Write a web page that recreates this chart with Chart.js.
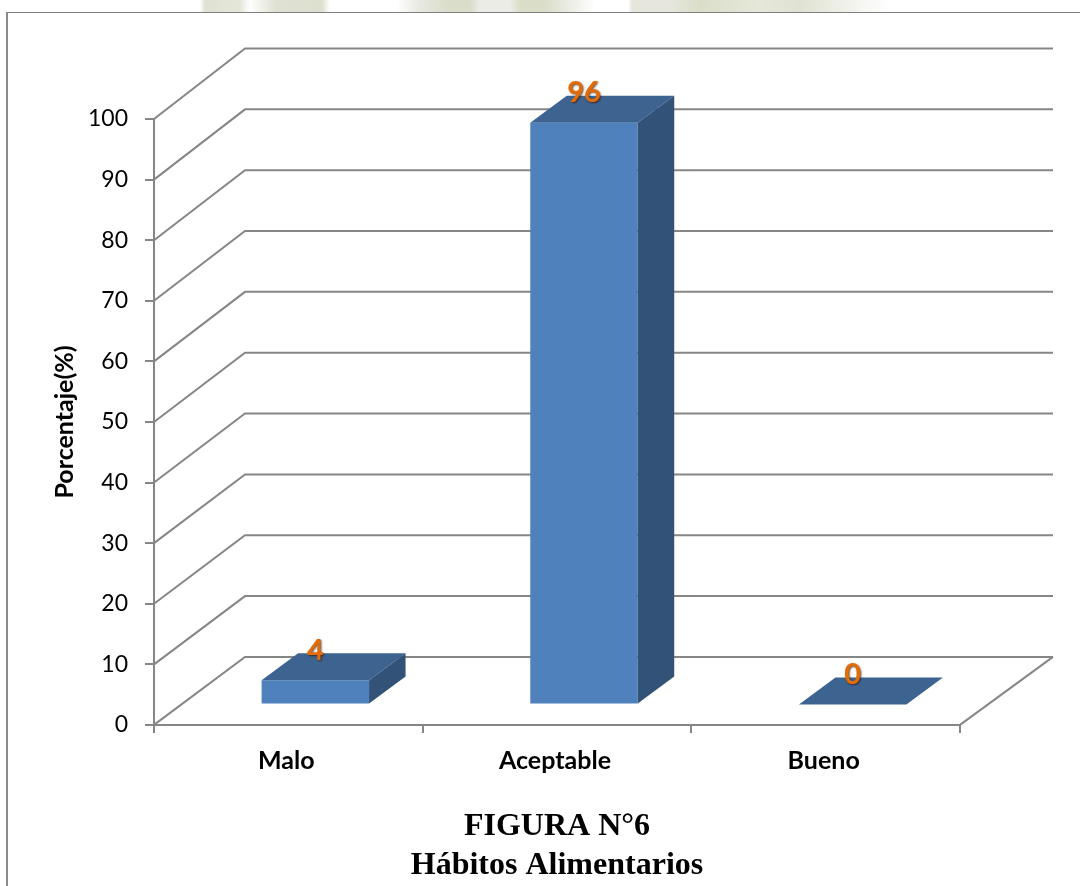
<!DOCTYPE html>
<html lang="es">
<head>
<meta charset="utf-8">
<title>Hábitos Alimentarios</title>
<script src="https://cdn.jsdelivr.net/npm/chart.js@4"></script>
<style>
    html, body { margin: 0; padding: 0; background: #fff; }
    body { position: relative; width: 1080px; height: 886px; overflow: hidden; }
    #sello {
        position: absolute; left: 0; top: 0; width: 1080px; height: 12px;
        background: linear-gradient(90deg,
            #fff 200px, #dfe2d3 205px, #e4e6d9 240px, #fff 250px, #dfe2d3 275px, #dde0cf 322px, #fff 330px,
            #fff 396px, #e8e8e0 420px, #d9ddc9 450px, #d9ddc9 470px, #ecece6 480px, #ecece6 510px, #dadec9 520px, #dadec9 545px, #f0f0ea 575px, #fff 595px,
            #fff 628px, #e6e6dd 632px, #e6e6dd 670px, #dadec9 700px, #e6e8da 760px, #dfe2d3 800px, #f2f2ec 850px, #fff 892px);
    }
    #marco {
        position: absolute; left: 6px; top: 12px; right: 0; bottom: 0;
        border-left: 2px solid #8a8a8a; border-top: 1px solid #7f7f7f;
    }
    canvas { position: absolute; left: 0; top: 0; }
</style>
</head>
<body>
<div id="sello"></div>
<div id="marco"></div>
<canvas id="habitosChart" width="1080" height="886"></canvas>

<script>
// Datos de la figura
const categorias = ['Malo', 'Aceptable', 'Bueno'];
const porcentajes = [4, 96, 0];
const tituloFigura = ['FIGURA N°6', 'Hábitos Alimentarios'];
const tituloEjeY = 'Porcentaje(%)';

// Proyeccion de la caja 3D
const PARED_DX = 91;
const PARED_DX_DER = 93;
const PARED_DY = 68;
const PARED_DY_EXTRA = 0.025; // la pared del fondo se abre un poco hacia arriba
const BARRA_DX = 27;
const BARRA_DY = 20.5;
const FONDO_DX = 36.5;
const FONDO_DY = 27;

const COLOR_EJE = '#868686';

// Paredes, piso y caras laterales de las columnas
const caja3d = {
    id: 'caja3d',
    beforeDatasetsDraw(chart) {
        const { ctx, chartArea, scales } = chart;
        ctx.save();
        ctx.strokeStyle = COLOR_EJE;
        ctx.lineWidth = 2;
        scales.y.ticks.forEach(tick => {
            const y = scales.y.getPixelForValue(tick.value);
            const fondoY = y - PARED_DY - tick.value * PARED_DY_EXTRA;
            ctx.beginPath();
            ctx.moveTo(chartArea.left, y);
            ctx.lineTo(chartArea.left + PARED_DX, fondoY);
            ctx.lineTo(chartArea.right + PARED_DX_DER, fondoY);
            ctx.stroke();
        });
        // borde derecho del piso
        ctx.beginPath();
        ctx.moveTo(chartArea.right, chartArea.bottom);
        ctx.lineTo(chartArea.right + PARED_DX_DER, chartArea.bottom - PARED_DY);
        ctx.stroke();
        ctx.restore();
    },
    beforeDatasetDraw(chart) {
        chart.ctx.save();
        chart.ctx.translate(BARRA_DX, -BARRA_DY);
    },
    afterDatasetDraw(chart, args) {
        const ctx = chart.ctx;
        const meta = chart.getDatasetMeta(args.index);
        meta.data.forEach(bar => {
            const izq = bar.x - bar.width / 2;
            const der = bar.x + bar.width / 2;
            // cara superior
            ctx.fillStyle = '#3d6391';
            ctx.beginPath();
            ctx.moveTo(izq, bar.y);
            ctx.lineTo(izq + FONDO_DX, bar.y - FONDO_DY);
            ctx.lineTo(der + FONDO_DX, bar.y - FONDO_DY);
            ctx.lineTo(der, bar.y);
            ctx.closePath();
            ctx.fill();
            // cara lateral
            ctx.fillStyle = '#325277';
            ctx.beginPath();
            ctx.moveTo(der, bar.y);
            ctx.lineTo(der + FONDO_DX, bar.y - FONDO_DY);
            ctx.lineTo(der + FONDO_DX, bar.base - FONDO_DY);
            ctx.lineTo(der, bar.base);
            ctx.closePath();
            ctx.fill();
        });
        // etiquetas de valor
        ctx.font = 'bold 29px Lato';
        ctx.textAlign = 'center';
        ctx.textBaseline = 'middle';
        ctx.fillStyle = '#e36c09';
        ctx.shadowColor = 'rgba(60, 25, 0, 0.75)';
        ctx.shadowBlur = 2;
        ctx.shadowOffsetX = 1;
        ctx.shadowOffsetY = 1;
        meta.data.forEach((bar, i) => {
            ctx.fillText(porcentajes[i], bar.x, bar.y - 30);
        });
        ctx.restore();
    }
};

new Chart(document.getElementById('habitosChart'), {
    type: 'bar',
    data: {
        labels: categorias,
        datasets: [{
            data: porcentajes,
            backgroundColor: '#4f81bd',
            borderWidth: 0,
            categoryPercentage: 1,
            barPercentage: 0.4,
            clip: false
        }]
    },
    options: {
        responsive: false,
        animation: false,
        layout: { padding: { left: 0, right: 120, top: 119, bottom: 1 } },
        plugins: {
            legend: { display: false },
            tooltip: { enabled: false },
            title: {
                display: true,
                text: tituloFigura,
                position: 'bottom',
                fullSize: false,
                color: '#000',
                padding: 0,
                font: { family: 'Liberation Serif', size: 32, weight: 'bold', lineHeight: 1.22 }
            }
        },
        scales: {
            x: {
                grid: { drawOnChartArea: false, color: COLOR_EJE, lineWidth: 2, tickLength: 8 },
                border: { color: COLOR_EJE, width: 2 },
                ticks: { color: '#000', padding: 13, labelOffset: -2, font: { family: 'Lato', size: 25, weight: 'bold' } },
                afterFit(scale) { scale.height = 82; }
            },
            y: {
                min: 0,
                max: 100,
                grid: { drawOnChartArea: false, color: COLOR_EJE, lineWidth: 2, tickLength: 9 },
                border: { color: COLOR_EJE, width: 2 },
                ticks: { stepSize: 10, color: '#000', padding: 17, font: { family: 'Lato', size: 23 } },
                title: {
                    display: true,
                    text: tituloEjeY,
                    color: '#000',
                    padding: { top: 50, bottom: 0 },
                    font: { family: 'Lato', size: 25, weight: 'bold' }
                },
                afterFit(scale) { scale.width = 154; }
            }
        }
    },
    plugins: [caja3d]
});
</script>
</body>
</html>
